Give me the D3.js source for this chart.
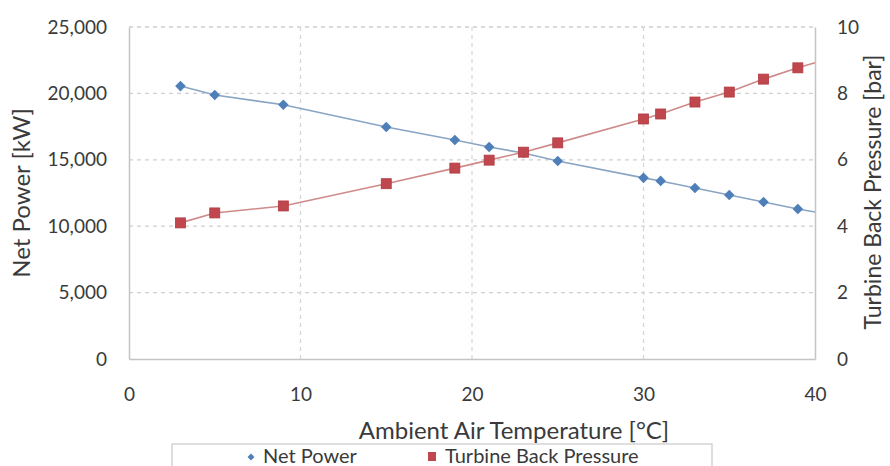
<!DOCTYPE html>
<html>
<head>
<meta charset="utf-8">
<script src="https://cdn.jsdelivr.net/npm/d3@7"></script>
<style>
  body { margin: 0; background: #fff; }
  text { font-family: Lato, "Open Sans", sans-serif; fill: #3a3a3a; }
</style>
</head>
<body>
<div id="chart"></div>
<script>
// data
var temps = [3, 5, 9, 15, 19, 21, 23, 25, 30, 31, 33, 35, 37, 39];
var netPower = [20550, 19880, 19140, 17470, 16490, 15960, 15510, 14910, 13640, 13410, 12880, 12350, 11820, 11300];
var backPressure = [4.10, 4.40, 4.61, 5.28, 5.75, 5.99, 6.23, 6.51, 7.23, 7.38, 7.74, 8.04, 8.43, 8.77];
// where each line meets the right edge of the plot (x = 40)
var lineEndTemp = 40, lineEndPower = 11070, lineEndPressure = 8.92;
var xTicks = [0, 10, 20, 30, 40];
var leftTicks = [0, 5000, 10000, 15000, 20000, 25000];
var rightTicks = [0, 2, 4, 6, 8, 10];

var W = 890, H = 466;
var margin = {top: 27, right: 75, bottom: 107, left: 129},
    width = 815 - margin.left,
    height = 359 - margin.top;

var svg = d3.select("#chart").append("svg")
    .attr("width", W).attr("height", H);
var g = svg.append("g")
    .attr("transform", "translate(" + margin.left + "," + margin.top + ")");

var x = d3.scaleLinear().domain([0, 40]).range([0, width]);
var yL = d3.scaleLinear().domain([0, 25000]).range([height, 0]);
var yR = d3.scaleLinear().domain([0, 10]).range([height, 0]);

// gridlines
g.append("g").selectAll("line").data(leftTicks.slice(1)).enter().append("line")
    .attr("x1", 0).attr("x2", width)
    .attr("y1", function(d) { return yL(d); }).attr("y2", function(d) { return yL(d); })
    .attr("stroke", "#d0d0d0").attr("stroke-width", 1.3).attr("stroke-dasharray", "4,4");
g.append("g").selectAll("line").data([10, 20, 30]).enter().append("line")
    .attr("y1", 0).attr("y2", height)
    .attr("x1", function(d) { return x(d); }).attr("x2", function(d) { return x(d); })
    .attr("stroke", "#d8d8d8").attr("stroke-width", 1.3).attr("stroke-dasharray", "4,4");

// axes
var axL = g.append("g").call(d3.axisLeft(yL).tickValues(leftTicks).tickSize(0).tickPadding(22).tickFormat(d3.format(",")));
var axR = g.append("g").attr("transform", "translate(" + width + ",0)")
    .call(d3.axisRight(yR).tickValues(rightTicks).tickSize(0).tickPadding(22));
var axB = g.append("g").attr("transform", "translate(0," + height + ")")
    .call(d3.axisBottom(x).tickValues(xTicks).tickSize(0).tickPadding(29));
[axL, axR, axB].forEach(function(a) {
  a.select(".domain").attr("stroke", "#c4c4c4").attr("stroke-width", 1.5);
  a.selectAll("text").style("font-size", "19px").attr("fill", "#3a3a3a");
});

// lines
function series(vals, endVal) {
  var pts = temps.map(function(t, i) { return [t, vals[i]]; });
  pts.push([lineEndTemp, endVal]);
  return pts;
}
g.append("path").datum(series(netPower, lineEndPower))
    .attr("fill", "none").attr("stroke", "#8aa4c4").attr("stroke-width", 1.6)
    .attr("d", d3.line().x(function(d) { return x(d[0]); }).y(function(d) { return yL(d[1]); }));
g.append("path").datum(series(backPressure, lineEndPressure))
    .attr("fill", "none").attr("stroke", "#cf8a8a").attr("stroke-width", 1.6)
    .attr("d", d3.line().x(function(d) { return x(d[0]); }).y(function(d) { return yR(d[1]); }));

// markers
var diamond = d3.symbol().type(d3.symbolSquare);
g.append("g").selectAll("path").data(temps).enter().append("path")
    .attr("d", diamond.size(56))
    .attr("transform", function(d, i) { return "translate(" + x(d) + "," + yL(netPower[i]) + ") rotate(45)"; })
    .attr("fill", "#4f7fb8");
g.append("g").selectAll("rect").data(temps).enter().append("rect")
    .attr("x", function(d) { return x(d) - 5; })
    .attr("y", function(d, i) { return yR(backPressure[i]) - 5; })
    .attr("width", 10).attr("height", 10)
    .attr("fill", "#c0474d").attr("stroke", "#b03a40").attr("stroke-width", 0.8);

// axis titles
svg.append("text").attr("transform", "translate(30,193) rotate(-90)")
    .attr("text-anchor", "middle").style("font-size", "24px").text("Net Power [kW]");
svg.append("text").attr("transform", "translate(881,192) rotate(-90)")
    .attr("text-anchor", "middle").style("font-size", "23px").text("Turbine Back Pressure [bar]");
svg.append("text").attr("x", 514).attr("y", 439)
    .attr("text-anchor", "middle").style("font-size", "24px").text("Ambient Air Temperature [°C]");

// legend
var lg = svg.append("g");
lg.append("rect").attr("x", 172).attr("y", 444).attr("width", 540).attr("height", 30)
    .attr("fill", "#fff").attr("stroke", "#c8c8c8").attr("stroke-width", 1.2);
lg.append("path").attr("d", d3.symbol().type(d3.symbolSquare).size(24)())
    .attr("transform", "translate(251,457) rotate(45)").attr("fill", "#4f7fb8");
lg.append("text").attr("x", 263).attr("y", 463).style("font-size", "20px").text("Net Power");
lg.append("rect").attr("x", 428).attr("y", 452).attr("width", 8).attr("height", 9).attr("fill", "#c0474d");
lg.append("text").attr("x", 445).attr("y", 463).style("font-size", "20px").text("Turbine Back Pressure");
</script>
</body>
</html>
